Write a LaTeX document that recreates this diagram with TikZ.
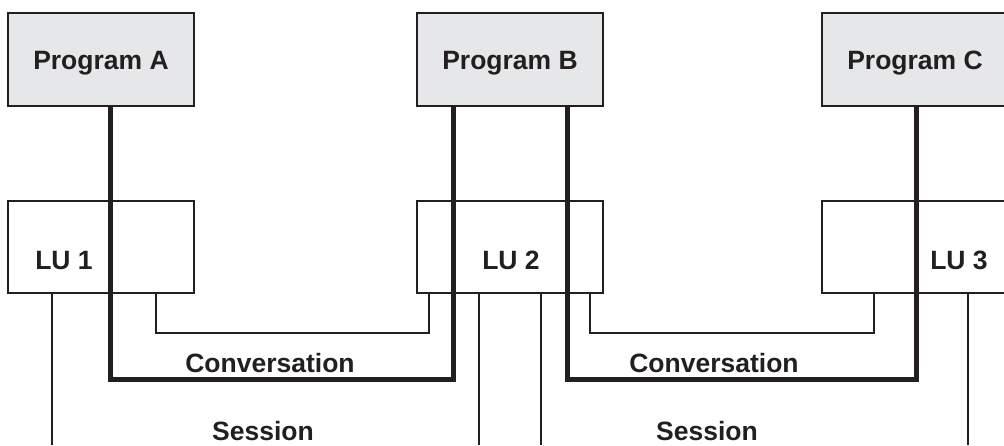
\documentclass[tikz,border=0pt]{standalone}
\usepackage{fontspec}
\setmainfont{Liberation Sans}
\definecolor{ink}{HTML}{231F20}
\definecolor{boxfill}{HTML}{E6E7E8}
\begin{document}
\begin{tikzpicture}[x=1pt,y=-1pt,
  prog/.style={draw=ink,line width=2pt,fill=boxfill,minimum width=186pt,minimum height=93pt,inner sep=0pt},
  lubox/.style={draw=ink,line width=2pt,fill=white,minimum width=186pt,minimum height=92pt,inner sep=0pt},
  lbl/.style={text=ink,font=\fontsize{26.5}{30}\selectfont\bfseries,anchor=base,inner sep=0pt},
  conv/.style={draw=ink,line width=5pt,line join=miter},
  thin/.style={draw=ink,line width=2pt,line join=miter}]
\useasboundingbox (0,0) rectangle (1004,445);
\clip (0,0) rectangle (1004,445);
% boxes
\node[prog] (pa) at (101,59.5) {};
\node[prog] (pb) at (510,59.5) {};
\node[prog] (pc) at (915,59.5) {};
\node[lubox] (lu1) at (101,247) {};
\node[lubox] (lu2) at (510,247) {};
\node[lubox] (lu3) at (915,247) {};
% texts
\node[lbl] (ta) at (101,69) {Program A};
\node[lbl] (tb) at (510,69) {Program B};
\node[lbl] (tc) at (915,69) {Program C};
\node[lbl] (t1) at (64,269) {LU 1};
\node[lbl] (t2) at (511,269) {LU 2};
\node[lbl] (t3) at (959,269) {LU 3};
\node[lbl] (c1) at (270,372) {Conversation};
\node[lbl] (c2) at (714,372) {Conversation};
\node[lbl] (s1) at (263,440) {Session};
\node[lbl] (s2) at (707,440) {Session};
% corner coordinates
\coordinate (ca) at (110,379);
\coordinate (cb) at (453,379);
\coordinate (cd) at (567,379);
\coordinate (ce) at (916,379);
\coordinate (ta1) at (156,333);
\coordinate (ta2) at (429,333);
\coordinate (tb1) at (590,333);
\coordinate (tb2) at (874,333);
\coordinate (e1) at (52,445);
\coordinate (e2) at (479,445);
\coordinate (e3) at (541,445);
\coordinate (e4) at (968,445);
% thin session/conversation links
\draw[thin] (lu1.south -| ta1) -- (ta1) -- (ta2) -- (lu2.south -| ta2);
\draw[thin] (lu2.south -| tb1) -- (tb1) -- (tb2) -- (lu3.south -| tb2);
\draw[thin] (lu1.south -| e1) -- (e1);
\draw[thin] (lu2.south -| e2) -- (e2);
\draw[thin] (lu2.south -| e3) -- (e3);
\draw[thin] (lu3.south -| e4) -- (e4);
% thick conversations
\draw[conv] (pa.south -| ca) -- (ca) -- (cb) -- (pb.south -| cb);
\draw[conv] (pb.south -| cd) -- (cd) -- (ce) -- (pc.south -| ce);
\end{tikzpicture}
\end{document}
